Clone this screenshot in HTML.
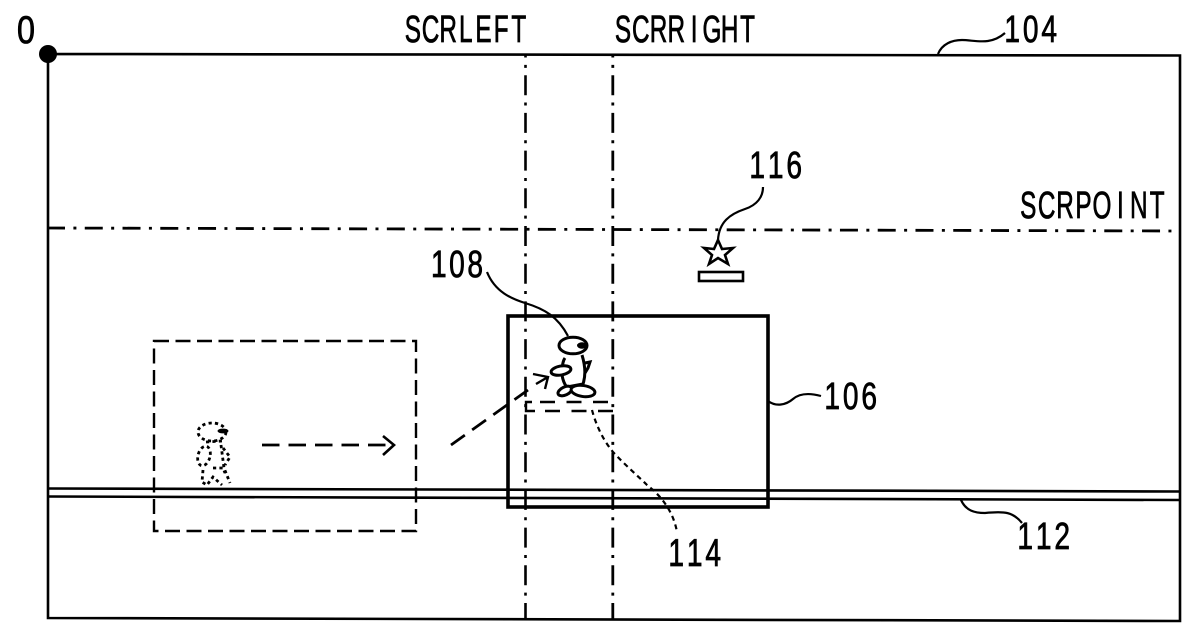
<!DOCTYPE html>
<html><head><meta charset="utf-8"><style>
html,body{margin:0;padding:0;background:#fff}
svg{display:block}
text{font-family:"Liberation Sans",sans-serif;font-size:38px;fill:#000;stroke:#000;stroke-width:.8;text-anchor:middle}
</style></head><body>
<svg width="1200" height="641" viewBox="0 0 1200 641" xmlns="http://www.w3.org/2000/svg">
<g fill="none" stroke="#000" stroke-linecap="butt">
<!-- frame -->
<path d="M48 54 L1180 55.5 L1180 621 L48 618 Z" stroke-width="2.6"/>
<circle cx="48" cy="54" r="9" fill="#000" stroke="none"/>
<!-- dash dot lines -->
<path d="M525.5 54V619" stroke-width="2.6" stroke-dasharray="20 7.35 3 7.35" stroke-dashoffset="16.5"/>
<path d="M612.8 54V620" stroke-width="2.8" stroke-dasharray="20 7.35 3 7.35" stroke-dashoffset="16.5"/>
<path d="M47 228 L1180 231" stroke-width="2.8" stroke-dasharray="18 8.4 3 8.36"/>
<!-- road -->
<path d="M48 488.5 L1180 491.5" stroke-width="2.6"/>
<path d="M48 496.5 L1180 500" stroke-width="2.6"/>
<!-- 106 box -->
<rect x="508" y="316" width="260" height="191" stroke-width="3.6"/>
<!-- dashed box -->
<rect x="154" y="341" width="262" height="190" stroke-width="2.4" stroke-dasharray="15 6.5"/>
<!-- platform dashed -->
<path d="M540 402H613" stroke-width="2.4" stroke-dasharray="15 11.5"/>
<path d="M532 402H526V411H535" stroke-width="2.4"/>
<path d="M545 411H613" stroke-width="2.4" stroke-dasharray="15 11.5"/>
<!-- arrows -->
<path d="M262 445H393" stroke-width="2.8" stroke-dasharray="17.5 9"/>
<path d="M383 436L394 445L383 455" stroke-width="2.6"/>
<path d="M451 445L528 390" stroke-width="2.8" stroke-dasharray="17 9"/>
<path d="M533 374L548 377L545 389M536 384L548 377" stroke-width="2.4"/>
<!-- character 108 -->
<g stroke-width="3" fill="#fff">
<path d="M585 363L590 362L588 368L585 373"/>
<path d="M565 358C562 362 562 370 562 375C563 381 565 385 567 387L583 384C585 378 586 368 582 355"/>
<ellipse cx="573" cy="345.5" rx="14" ry="8.3"/>
<ellipse cx="561" cy="370.5" rx="10" ry="4.5" transform="rotate(-10 561 370.5)"/>
<ellipse cx="565" cy="391" rx="7.5" ry="4" transform="rotate(-25 565 391)"/>
<ellipse cx="583" cy="391" rx="12" ry="5.5" transform="rotate(8 583 391)"/>
</g>
<ellipse cx="582" cy="345.5" rx="5" ry="3.2" fill="#000" stroke="none"/>
<!-- dotted character -->
<g stroke-width="2.8" stroke-dasharray="3.2 3.2">
<ellipse cx="212" cy="432" rx="14" ry="9"/>
<path d="M206 442L222 441"/>
<ellipse cx="204" cy="456" rx="6" ry="10" transform="rotate(15 204 456)"/>
<path d="M223 448L230 457L225 465"/>
<path d="M221 445L224 468L230 483"/>
<path d="M203 470L202 482L207 485L213 477L222 485"/>
<path d="M213 468L223 468L225 473"/>
</g>
<ellipse cx="223" cy="431" rx="5.5" ry="2.4" fill="#000" stroke="none"/>
<!-- star and platform -->
<path d="M718 240L722 249L733 248L725 255L728 264L718 258L709 264L712 255L704 248L714 249Z" stroke-width="2.6"/>
<rect x="699" y="272" width="44" height="9" stroke-width="2.6"/>
<!-- leaders -->
<path d="M763 187C763 197 757 205 745 209C730 214 719 222 718 240" stroke-width="2.2"/>
<path d="M487 272C495 292 512 299 525 303C545 309 558 317 568 336" stroke-width="2.2"/>
<path d="M768 401C776 407 786 405 793 399C800 393 810 393 821 396" stroke-width="2.2"/>
<path d="M961 500C966 511 975 513 985 513C1005 511 1013 512 1022 523" stroke-width="2.2"/>
<path d="M938 54C942 44 952 40 962 40C975 40 990 46 1005 33" stroke-width="2.2"/>
<path d="M592 410C596 425 603 440 613 452C625 465 638 476 647 485C660 495 673 510 677 532" stroke-width="2.2" stroke-dasharray="5 4"/>
</g>
<!-- labels -->
<text transform="translate(17,43) scale(.85,1.02)" x="10.5">0</text>
<text transform="translate(404,42) scale(.64,1)" x="13.8 41.4 69 96.6 124.2 151.8 179.4">SCRLEFT</text>
<text transform="translate(614,42) scale(.64,1)" x="14 41.8 69.6 97.4 125.2 153 180.8 208.6">SCRRIGHT</text>
<text transform="translate(1019,218) scale(.64,1)" x="14.4 43.2 72 100.8 129.6 158.4 187.2 216">SCRPOINT</text>
<text transform="translate(1003,42) scale(.74,1)" x="12.5 37.5 62.5">104</text>
<text transform="translate(748,178) scale(.74,1)" x="12.5 37.5 62.5">116</text>
<text transform="translate(430,277) scale(.74,1)" x="12 36.5 61">108</text>
<text transform="translate(823,409) scale(.74,1)" x="12.5 37.5 62.5">106</text>
<text transform="translate(1016,549) scale(.74,1)" x="12.5 37.5 62.5">112</text>
<text transform="translate(667,566) scale(.74,1.03)" x="12.5 37.5 62.5">114</text>
</svg>
</body></html>
